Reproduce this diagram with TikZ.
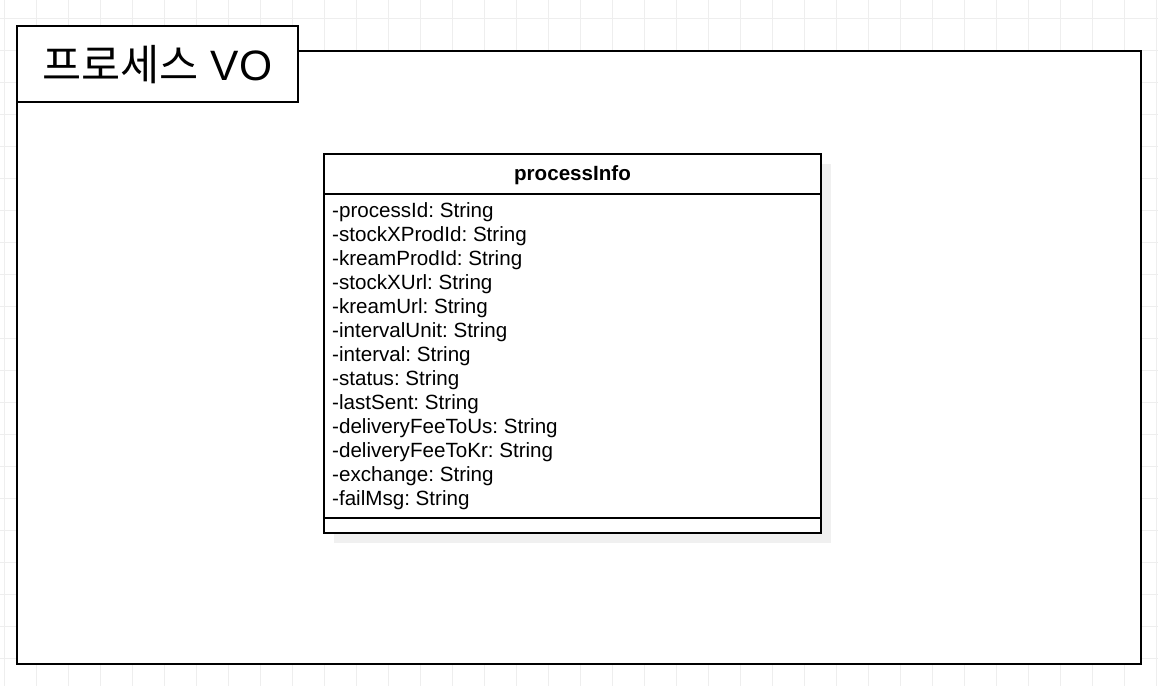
\documentclass[tikz,border=0pt]{standalone}
\usepackage{fontspec}
\setmainfont{Liberation Sans}
\newfontfamily\cjk{Noto Sans CJK KR}
\frenchspacing
\definecolor{gridc}{HTML}{EEEEEE}
\definecolor{shadowc}{HTML}{F0F0F0}
\tikzset{
  box/.style={draw=black, line width=1.4pt, fill=white, anchor=north west, inner sep=0pt, outer sep=0pt},
  attr/.style={anchor=base west, inner sep=0pt, font=\fontsize{20.6}{24}\selectfont},
}
\begin{document}
\begin{tikzpicture}[x=1pt,y=-1pt]
\useasboundingbox (0,0) rectangle (1158,686);
\fill[white] (0,0) rectangle (1158,686);
% grid
\foreach \x in {4,36,...,1158} \draw[gridc, line width=1pt] (\x,0) -- (\x,686);
\foreach \y in {18,50,...,686} \draw[gridc, line width=1pt] (0,\y) -- (1158,\y);
% outer frame
\node[box, minimum width=1124pt, minimum height=613pt] (frame) at (17,51) {};
\node[box, minimum width=281pt, minimum height=76pt] (title) at (17,26) {};
\node[font=\fontsize{42.5}{50}\selectfont, inner sep=0pt] (titletext) at ([yshift=-1pt]title.center) {{\cjk 프로세스} VO};
% class shadow
\fill[shadowc] (334,164) rectangle (831,543);
\node[box, minimum width=497pt, minimum height=40pt] (head) at (324,154) {};
\node[font=\bfseries\fontsize{20.6}{24}\selectfont, inner sep=0pt] (headtext) at ([yshift=-1.5pt]head.center) {processInfo};
\node[box, minimum width=497pt, minimum height=324pt] (attrs) at (head.south west) {};
\node[box, minimum width=497pt, minimum height=15pt] (ops) at (attrs.south west) {};
\foreach \t [count=\i] in {-processId: String,-stockXProdId: String,-kreamProdId: String,-stockXUrl: String,-kreamUrl: String,-intervalUnit: String,-interval: String,-status: String,-lastSent: String,-deliveryFeeToUs: String,-deliveryFeeToKr: String,-exchange: String,-failMsg: String}
  \node[attr] (a\i) at (332,{217+24*(\i-1)}) {\t};
\end{tikzpicture}
\end{document}
